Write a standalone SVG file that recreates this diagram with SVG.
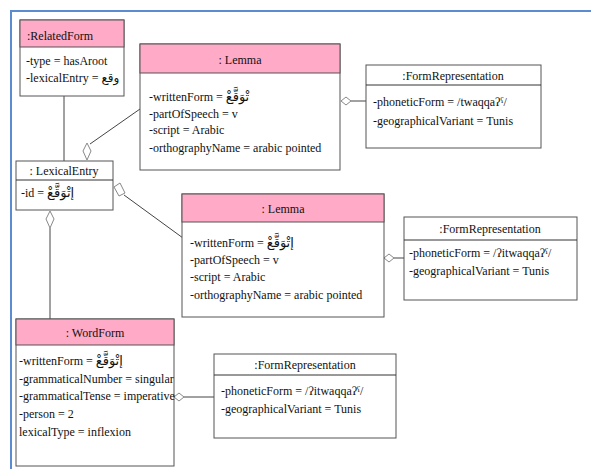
<svg xmlns="http://www.w3.org/2000/svg" width="591" height="469" viewBox="0 0 591 469">
  <style>
    .box { fill: #ffffff; stroke: #555555; stroke-width: 1; }
    .head { fill: #ffaac6; stroke: #555555; stroke-width: 1; }
    .sep { stroke: #333333; stroke-width: 1; }
    .title { text-anchor: middle; }
    .link { stroke: #444444; stroke-width: 1; fill: none; }
    .dia { fill: #ffffff; stroke: #888888; stroke-width: 1; }
  </style>

  <!-- page frame -->
  <path d="M11,469 V11 H591" fill="none" stroke="#5b8bd0" stroke-width="2"/>

  <!-- connectors -->
  <g id="connectors">
    <line class="link" x1="64" y1="96" x2="64" y2="161"/>
    <line class="link" x1="140" y1="109" x2="90" y2="144"/>
    <path class="dia" d="M87,143 L91,151 L87,160 L83,151 Z"/>
    <line class="link" x1="351" y1="101" x2="366" y2="101"/>
    <path class="dia" d="M341,101 L346,97 L351,101 L346,105 Z"/>
    <line class="link" x1="124" y1="195" x2="183" y2="238"/>
    <path class="dia" d="M114,187 L120,183 L125,193 L119,196 Z"/>
    <line class="link" x1="50" y1="228" x2="50" y2="319"/>
    <path class="dia" d="M50,211 L54,219 L50,228 L46,219 Z"/>
    <line class="link" x1="394" y1="258" x2="404" y2="258"/>
    <path class="dia" d="M384,258 L389,254 L394,258 L389,262 Z"/>
    <line class="link" x1="184" y1="397" x2="214" y2="397"/>
    <path class="dia" d="M174,397 L179,393 L184,397 L179,401 Z"/>
  </g>

  <g font-family="'Liberation Serif', 'DejaVu Serif', serif" font-size="12" fill="#111111">
  <!-- RelatedForm -->
  <g id="relatedForm">
    <rect class="box" x="20" y="20" width="104" height="76"/>
    <rect class="head" x="20" y="20" width="104" height="27"/>
    <text x="27" y="40">:RelatedForm</text>
    <text x="26" y="65">-type = hasAroot</text>
    <text x="26" y="82">-lexicalEntry = <tspan font-family="'DejaVu Sans', sans-serif" font-size="12">وقع</tspan></text>
  </g>

  <!-- Lemma (first) -->
  <g id="lemma1">
    <rect class="box" x="140" y="44" width="200" height="126"/>
    <rect class="head" x="140" y="44" width="200" height="29"/>
    <text class="title" x="240" y="64">: Lemma</text>
    <text x="149" y="101">-writtenForm = <tspan font-family="'DejaVu Sans', sans-serif" font-size="13">تْوَقَّعْ</tspan></text>
    <text x="149" y="118">-partOfSpeech = v</text>
    <text x="149" y="134">-script = Arabic</text>
    <text x="149" y="152">-orthographyName = arabic pointed</text>
  </g>

  <!-- FormRepresentation (first) -->
  <g id="formRep1">
    <rect class="box" x="366" y="65" width="175" height="83"/>
    <line class="sep" x1="366" y1="85" x2="541" y2="85"/>
    <text class="title" x="453" y="80">:FormRepresentation</text>
    <text x="373" y="106">-phoneticForm = /twaqqaʔˤ/</text>
    <text x="373" y="125">-geographicalVariant = Tunis</text>
  </g>

  <!-- LexicalEntry -->
  <g id="lexicalEntry">
    <rect class="box" x="16" y="161" width="97" height="49"/>
    <line class="sep" x1="16" y1="180" x2="113" y2="180"/>
    <text class="title" x="64" y="175">: LexicalEntry</text>
    <text x="21" y="197">-id = <tspan font-family="'DejaVu Sans', sans-serif" font-size="13">إتْوَقَّعْ</tspan></text>
  </g>

  <!-- Lemma (second) -->
  <g id="lemma2">
    <rect class="box" x="182" y="194" width="202" height="123"/>
    <rect class="head" x="182" y="194" width="202" height="28"/>
    <text class="title" x="283" y="213">: Lemma</text>
    <text x="190" y="247">-writtenForm = <tspan font-family="'DejaVu Sans', sans-serif" font-size="13">إتْوَقَّعْ</tspan></text>
    <text x="190" y="264">-partOfSpeech = v</text>
    <text x="190" y="281">-script = Arabic</text>
    <text x="190" y="299">-orthographyName = arabic pointed</text>
  </g>

  <!-- FormRepresentation (second) -->
  <g id="formRep2">
    <rect class="box" x="404" y="217" width="173" height="83"/>
    <line class="sep" x1="404" y1="240" x2="577" y2="240"/>
    <text class="title" x="490" y="233">:FormRepresentation</text>
    <text x="409" y="257">-phoneticForm = /ʔitwaqqaʔˤ/</text>
    <text x="409" y="275">-geographicalVariant = Tunis</text>
  </g>

  <!-- WordForm -->
  <g id="wordForm">
    <rect class="box" x="16" y="319" width="158" height="147"/>
    <rect class="head" x="16" y="319" width="158" height="26"/>
    <text class="title" x="95" y="337">: WordForm</text>
    <text x="19" y="365">-writtenForm = <tspan font-family="'DejaVu Sans', sans-serif" font-size="13">إتْوَقَّعْ</tspan></text>
    <text x="19" y="383">-grammaticalNumber = singular</text>
    <text x="19" y="400">-grammaticalTense = imperative</text>
    <text x="19" y="418">-person = 2</text>
    <text x="19" y="436">lexicalType = inflexion</text>
  </g>

  <!-- FormRepresentation (third) -->
  <g id="formRep3">
    <rect class="box" x="214" y="354" width="182" height="84"/>
    <line class="sep" x1="214" y1="375" x2="396" y2="375"/>
    <text class="title" x="305" y="369">:FormRepresentation</text>
    <text x="221" y="395">-phoneticForm = /ʔitwaqqaʔˤ/</text>
    <text x="221" y="413">-geographicalVariant = Tunis</text>
  </g>
  </g>
</svg>
